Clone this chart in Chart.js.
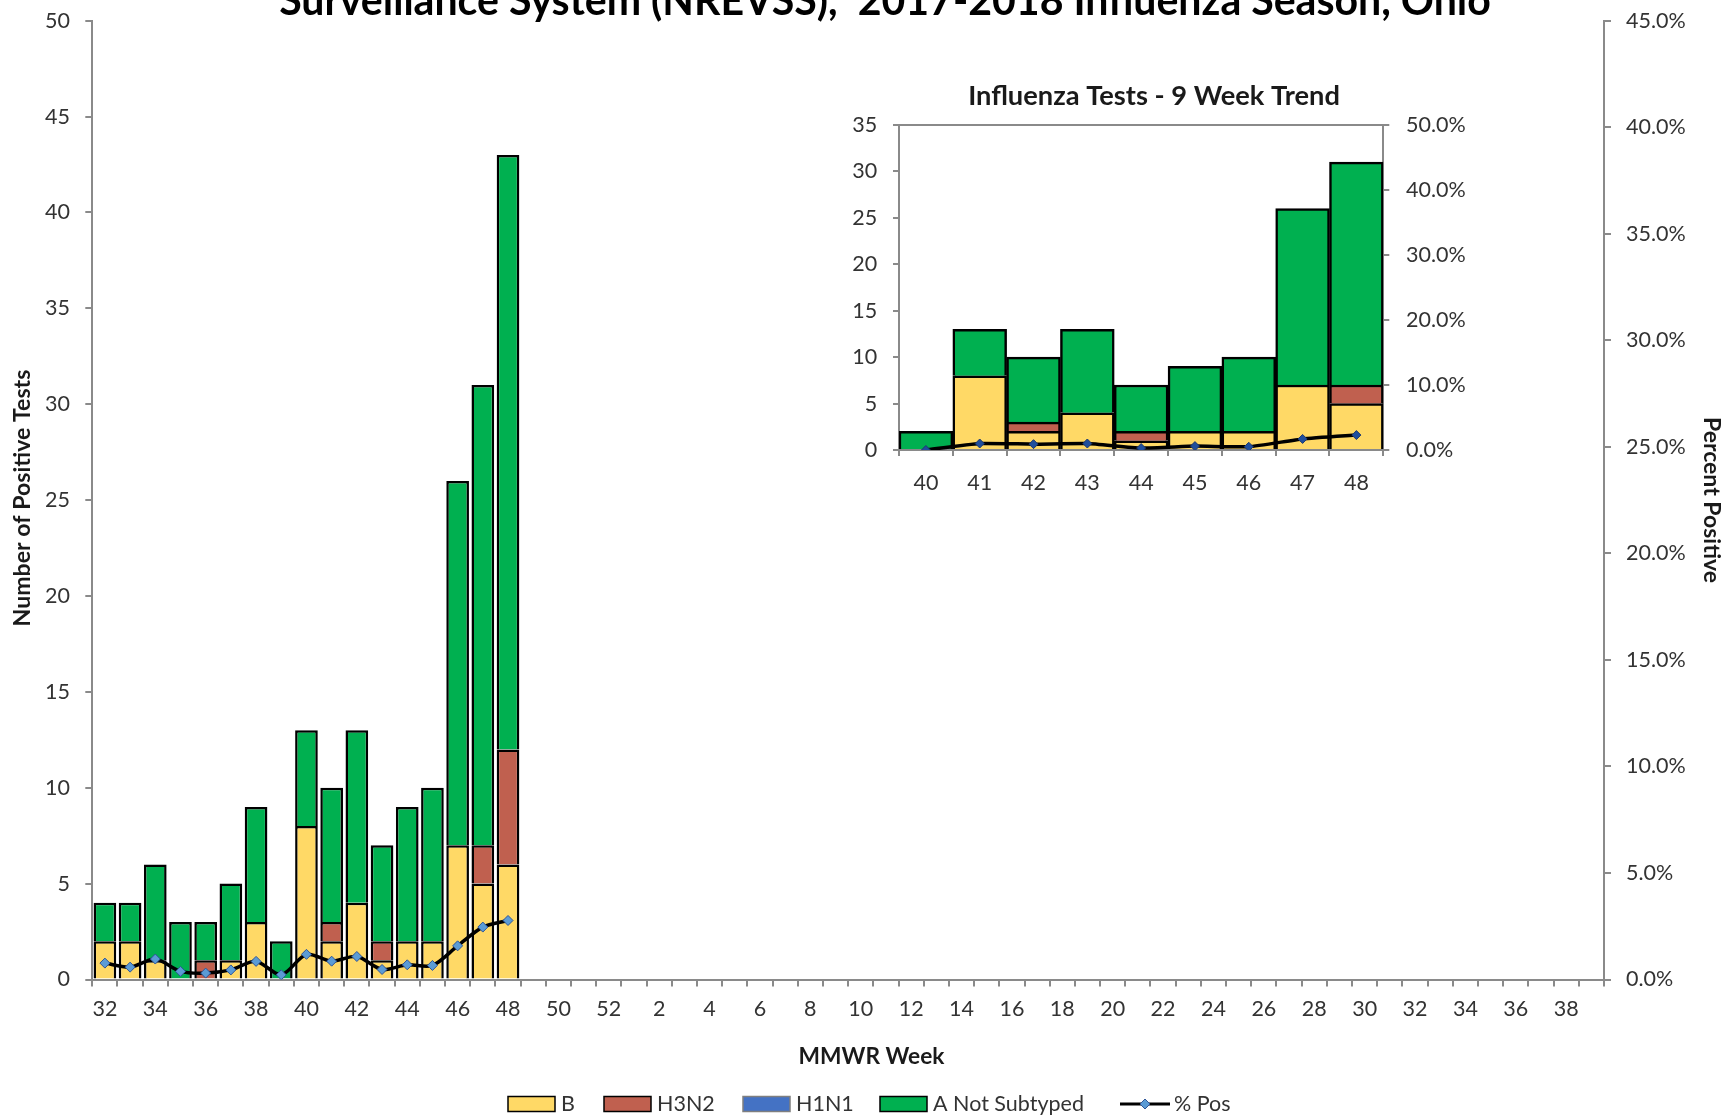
<!DOCTYPE html>
<html><head><meta charset="utf-8">
<script src="https://cdn.jsdelivr.net/npm/chart.js@4.4.1/dist/chart.umd.min.js"></script>
<style>
html,body{margin:0;padding:0;background:#fff;overflow:hidden;}
#wrap{position:relative;width:1732px;height:1118px;background:#fff;}
#main{position:absolute;left:0;top:0;}
#inset{position:absolute;left:820px;top:70px;}
</style></head><body>
<div id="wrap">
<canvas id="main" width="1732" height="1118"></canvas>
<canvas id="inset" width="660" height="430"></canvas>
</div>
<script>
// ---------- DATA ----------
const weekLabels = ['32','33','34','35','36','37','38','39','40','41','42','43','44','45','46','47','48','49','50','51','52',
  '1','2','3','4','5','6','7','8','9','10','11','12','13','14','15','16','17','18','19','20',
  '21','22','23','24','25','26','27','28','29','30','31','32','33','34','35','36','37','38','39'];
// weeks 32..48 (reported so far)
const bValues    = [2, 2, 1, 0, 0, 1, 3, 0, 8, 2, 4, 1, 2, 2, 7, 5, 6];
const h3n2Values = [0, 0, 0, 0, 1, 0, 0, 0, 0, 1, 0, 1, 0, 0, 0, 2, 6];
const h1n1Values = [0, 0, 0, 0, 0, 0, 0, 0, 0, 0, 0, 0, 0, 0, 0, 0, 0];
const aNotSubtypedValues = [2, 2, 5, 3, 2, 4, 6, 2, 5, 7, 9, 5, 7, 8, 19, 24, 31];
const pctPositive = [0.77, 0.58, 0.96, 0.38, 0.30, 0.45, 0.85, 0.22, 1.18, 0.86, 1.08, 0.47, 0.69, 0.66, 1.58, 2.46, 2.77];
const leftTicks = {min: 0, max: 50, step: 5};
const rightTicks = {min: 0, max: 45, step: 5};

// inset: 9 week trend
const insetWeeks = ['40','41','42','43','44','45','46','47','48'];
const insetB    = [0, 8, 2, 4, 1, 2, 2, 7, 5];
const insetH3N2 = [0, 0, 1, 0, 1, 0, 0, 0, 2];
const insetH1N1 = [0, 0, 0, 0, 0, 0, 0, 0, 0];
const insetA    = [2, 5, 7, 9, 5, 7, 8, 19, 24];
const insetPct  = [0.0, 1.0, 0.9, 1.0, 0.3, 0.6, 0.5, 1.7, 2.3];
const insetLeftTicks = {min: 0, max: 35, step: 5};
const insetRightTicks = {min: 0, max: 50, step: 10};

const titleText = 'Surveillance System (NREVSS),  2017-2018 Influenza Season, Ohio';
const insetTitleText = 'Influenza Tests - 9 Week Trend';
const yTitle = 'Number of Positive Tests';
const y1Title = 'Percent Positive';
const xTitle = 'MMWR Week';
const seriesNames = ['B', 'H3N2', 'H1N1', 'A Not Subtyped', '% Pos'];

// ---------- STYLE ----------
const FONT = 'Lato, Carlito, Calibri, "Open Sans", sans-serif';
const C_B = '#FFD966', C_H3 = '#C0604F', C_H1 = '#4472C4', C_A = '#00B050';
const AXIS = '#8a8a8a';
const TICKC = '#333333';

const toBars = (arr, n) => Array.from({length: n}, (_, i) => (i < arr.length && arr[i] !== 0) ? arr[i] : null);
const toLine = (arr, n) => Array.from({length: n}, (_, i) => i < arr.length ? arr[i] : null);

function fitFont(ctx, text, weight, target) {
  ctx.font = weight + ' 100px ' + FONT;
  const w = ctx.measureText(text).width;
  return 100 * target / w;
}

function drawText(ctx, text, x, y, weight, target, rot, color) {
  const size = fitFont(ctx, text, weight, target);
  ctx.save();
  ctx.font = weight + ' ' + size + 'px ' + FONT;
  ctx.fillStyle = color || '#000';
  ctx.textAlign = 'center';
  ctx.textBaseline = 'middle';
  ctx.translate(x, y);
  if (rot) ctx.rotate(rot);
  ctx.fillText(text, 0, 0);
  ctx.restore();
}

const mainDecor = {
  id: 'mainDecor',
  afterDraw(chart) {
    const ctx = chart.ctx;
    // title (first line is outside the picture)
    const ts = fitFont(ctx, titleText, 'bold', 1212);
    ctx.save();
    ctx.font = 'bold ' + ts + 'px ' + FONT;
    ctx.fillStyle = '#000';
    ctx.textAlign = 'center';
    ctx.textBaseline = 'alphabetic';
    ctx.fillText(titleText, 885, 15);
    ctx.restore();
    drawText(ctx, yTitle, 23, 498, 'bold', 257, -Math.PI / 2, '#1a1a1a');
    drawText(ctx, y1Title, 1711, 500, 'bold', 166, Math.PI / 2, '#1a1a1a');
    drawText(ctx, xTitle, 871.5, 1057, 'bold', 146, 0, '#1a1a1a');
    // legend
    const ly = 1104;
    const items = [
      {x: 508, fill: C_B, stroke: '#000'},
      {x: 604, fill: C_H3, stroke: '#000'},
      {x: 743, fill: C_H1, stroke: '#7f7f7f'},
      {x: 880, fill: C_A, stroke: '#000'},
      {x: 1120, line: true}
    ];
    ctx.save();
    ctx.font = '21.5px ' + FONT;
    ctx.textBaseline = 'middle';
    ctx.textAlign = 'left';
    items.forEach((it, i) => {
      if (it.line) {
        ctx.strokeStyle = '#000'; ctx.lineWidth = 3;
        ctx.beginPath(); ctx.moveTo(it.x, ly); ctx.lineTo(it.x + 50, ly); ctx.stroke();
        ctx.fillStyle = '#5b9bd5'; ctx.strokeStyle = '#2f5597'; ctx.lineWidth = 1;
        ctx.beginPath();
        const cx = it.x + 25, r = 5;
        ctx.moveTo(cx, ly - r); ctx.lineTo(cx + r, ly); ctx.lineTo(cx, ly + r); ctx.lineTo(cx - r, ly); ctx.closePath();
        ctx.fill(); ctx.stroke();
        ctx.fillStyle = '#333';
        ctx.fillText(seriesNames[i], it.x + 54, ly);
      } else {
        ctx.fillStyle = it.fill; ctx.strokeStyle = it.stroke; ctx.lineWidth = 1.5;
        ctx.fillRect(it.x, ly - 7.5, 47, 15);
        ctx.strokeRect(it.x, ly - 7.5, 47, 15);
        ctx.fillStyle = '#333';
        ctx.fillText(seriesNames[i], it.x + 53, ly);
      }
    });
    ctx.restore();
  }
};

const insetDecor = {
  id: 'insetDecor',
  afterDraw(chart) {
    const ctx = chart.ctx;
    const a = chart.chartArea;
    ctx.save();
    ctx.strokeStyle = AXIS; ctx.lineWidth = 2;
    ctx.beginPath(); ctx.moveTo(a.left, a.top); ctx.lineTo(a.right, a.top); ctx.stroke();
    ctx.restore();
    drawText(ctx, insetTitleText, 334, 26, 'bold', 372, 0, '#1a1a1a');
  }
};

const tickFont = {family: FONT, size: 21.5};

function barDs(label, data, color, n, border, bp) {
  return {type: 'bar', label, data: toBars(data, n), backgroundColor: color, borderColor: border || '#000',
    borderWidth: 2.5, yAxisID: 'y', stack: 's', order: 2, barPercentage: bp, categoryPercentage: 1};
}

function fixV(width) {
  return s => { s.width = width; s.paddingTop = 0; s.paddingBottom = 0; };
}

new Chart(document.getElementById('main'), {
  type: 'bar',
  data: {
    labels: weekLabels,
    datasets: [
      barDs(seriesNames[0], bValues, C_B, weekLabels.length, '#000', 0.9),
      barDs(seriesNames[1], h3n2Values, C_H3, weekLabels.length, '#000', 0.9),
      barDs(seriesNames[2], h1n1Values, C_H1, weekLabels.length, '#000', 0.9),
      barDs(seriesNames[3], aNotSubtypedValues, C_A, weekLabels.length, '#000', 0.9),
      {type: 'line', label: seriesNames[4], data: toLine(pctPositive, weekLabels.length), yAxisID: 'y1',
        borderColor: '#000', borderWidth: 3.5, tension: 0.3, order: 0,
        pointStyle: 'rectRot', pointRadius: 5, pointBackgroundColor: '#5b9bd5', pointBorderColor: '#2f5597', pointBorderWidth: 1}
    ]
  },
  options: {
    responsive: false, animation: false, devicePixelRatio: 1,
    layout: {padding: {top: 20.7, left: 0, right: 0, bottom: 0}},
    plugins: {legend: {display: false}, tooltip: {enabled: false}, title: {display: false}},
    scales: {
      x: {
        stacked: true, offset: true,
        grid: {display: true, offset: true, drawOnChartArea: false, drawTicks: true, tickLength: 7, color: AXIS, lineWidth: 2},
        border: {display: true, color: AXIS, width: 2},
        ticks: {autoSkip: false, maxRotation: 0, minRotation: 0, padding: 10, font: tickFont, color: TICKC,
          callback: function (v, i) { return i % 2 === 0 ? this.getLabelForValue(v) : ''; }},
        afterFit: s => { s.height = 138.5; }
      },
      y: {
        stacked: true, position: 'left', min: leftTicks.min, max: leftTicks.max,
        grid: {display: true, drawOnChartArea: false, drawTicks: true, tickLength: 7, color: AXIS, lineWidth: 2},
        border: {display: true, color: AXIS, width: 2},
        ticks: {stepSize: leftTicks.step, padding: 15.3, font: tickFont, color: TICKC},
        afterFit: fixV(92.3)
      },
      y1: {
        position: 'right', min: rightTicks.min, max: rightTicks.max,
        grid: {display: true, drawOnChartArea: false, drawTicks: true, tickLength: 7, color: AXIS, lineWidth: 2},
        border: {display: true, color: AXIS, width: 2},
        ticks: {stepSize: rightTicks.step, padding: 15, font: tickFont, color: TICKC, callback: v => v.toFixed(1) + '%'},
        afterFit: fixV(128)
      }
    }
  },
  plugins: [mainDecor]
});

new Chart(document.getElementById('inset'), {
  type: 'bar',
  data: {
    labels: insetWeeks,
    datasets: [
      barDs(seriesNames[0], insetB, C_B, insetWeeks.length, '#000', 1),
      barDs(seriesNames[1], insetH3N2, C_H3, insetWeeks.length, '#000', 1),
      barDs(seriesNames[2], insetH1N1, C_H1, insetWeeks.length, '#000', 1),
      barDs(seriesNames[3], insetA, C_A, insetWeeks.length, '#000', 1),
      {type: 'line', label: seriesNames[4], data: insetPct, yAxisID: 'y1',
        borderColor: '#000', borderWidth: 3.5, tension: 0.15, order: 0,
        pointStyle: 'rectRot', pointRadius: 4.5, pointBackgroundColor: '#1f4e9c', pointBorderColor: '#1f3a6e', pointBorderWidth: 1}
    ]
  },
  options: {
    responsive: false, animation: false, devicePixelRatio: 1,
    layout: {padding: {top: 55, left: 0, right: 0, bottom: 0}},
    plugins: {legend: {display: false}, tooltip: {enabled: false}, title: {display: false}},
    scales: {
      x: {
        stacked: true, offset: true,
        grid: {display: true, offset: true, drawOnChartArea: false, drawTicks: true, tickLength: 6, color: AXIS, lineWidth: 2},
        border: {display: true, color: AXIS, width: 2},
        ticks: {autoSkip: false, maxRotation: 0, minRotation: 0, padding: 13.8, font: tickFont, color: TICKC},
        afterFit: s => { s.height = 50; }
      },
      y: {
        stacked: true, position: 'left', min: insetLeftTicks.min, max: insetLeftTicks.max,
        grid: {display: true, drawOnChartArea: false, drawTicks: true, tickLength: 6, color: AXIS, lineWidth: 2},
        border: {display: true, color: AXIS, width: 2},
        ticks: {stepSize: insetLeftTicks.step, padding: 15.7, font: tickFont, color: TICKC},
        afterFit: fixV(79)
      },
      y1: {
        position: 'right', min: insetRightTicks.min, max: insetRightTicks.max,
        grid: {display: true, drawOnChartArea: false, drawTicks: true, tickLength: 6, color: AXIS, lineWidth: 2},
        border: {display: true, color: AXIS, width: 2},
        ticks: {stepSize: insetRightTicks.step, padding: 16.7, font: tickFont, color: TICKC, callback: v => v.toFixed(1) + '%'},
        afterFit: fixV(96.7)
      }
    }
  },
  plugins: [insetDecor]
});
</script>
</body></html>
